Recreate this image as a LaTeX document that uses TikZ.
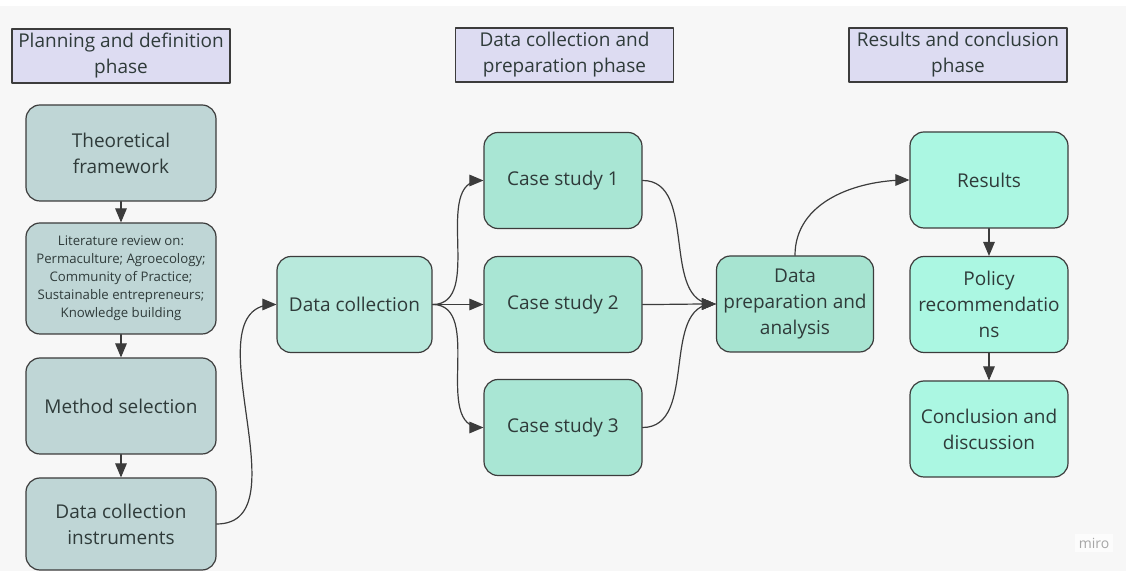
\documentclass[tikz,border=0pt]{standalone}
\usepackage{fontspec}
\setmainfont{Open Sans}
\usetikzlibrary{arrows, positioning}
\definecolor{bgcol}{HTML}{F7F7F7}
\definecolor{phasecol}{HTML}{DDDCF2}
\definecolor{plancol}{HTML}{BFD6D6}
\definecolor{collcol}{HTML}{B8E9DC}
\definecolor{casecol}{HTML}{A9E6D4}
\definecolor{prepcol}{HTML}{A7E4D1}
\definecolor{rescol}{HTML}{ABF7E2}
\definecolor{edgecol}{HTML}{3C3C3C}
\definecolor{txtcol}{HTML}{2F3B3A}

\begin{document}
\begin{tikzpicture}[line cap=round,line join=round,>=triangle 45,x=0.5pt,y=-0.5pt,
  phase/.style={draw=edgecol, line width=0.6pt, fill=phasecol, text=txtcol, align=center,
    minimum width=109pt, minimum height=27pt, inner sep=1pt, font=\fontsize{9.5}{13}\selectfont},
  box/.style={draw=edgecol, line width=0.6pt, rounded corners=7pt, text=txtcol, align=center,
    minimum height=48pt, inner sep=1pt, font=\fontsize{9.5}{13}\selectfont},
  planbox/.style={box, fill=plancol, minimum width=95pt},
  collbox/.style={box, fill=collcol, minimum width=77.5pt},
  casebox/.style={box, fill=casecol, minimum width=79pt},
  prepbox/.style={box, fill=prepcol, minimum width=78.5pt},
  resbox/.style={box, fill=rescol, minimum width=79pt},
  link/.style={->, draw=edgecol, line width=0.6pt}]
\fill[white] (0,0) rectangle (1126,571);
\fill[bgcol] (0,6) rectangle (1126,571);

% phases
\node[phase] (plan) at (121,56) {Planning and definition\\phase};
\node[phase] (prep) at (564.5,55) {Data collection and\\preparation phase};
\node[phase] (res) at (958,55) {Results and conclusion\\phase};

% planning and definition
\node[planbox] (theory) at (121,153) {Theoretical\\framework};
\node[planbox, minimum height=55.5pt, font=\fontsize{6.6}{9}\selectfont] (review) at (121,278.5)
  {Literature review on:\\Permaculture; Agroecology;\\Community of Practice;\\Sustainable entrepreneurs;\\Knowledge building};
\node[planbox] (method) at (121,406) {Method selection};
\node[planbox, minimum height=46pt] (instr) at (121,524) {Data collection\\instruments};

% data collection and preparation
\node[collbox] (collect) at (354.5,304.5) {Data collection};
\node[casebox] (case1) at (563,180.5) {Case study 1};
\node[casebox] (case2) at (563,304.5) {Case study 2};
\node[casebox] (case3) at (563,427.5) {Case study 3};
\node[prepbox] (analysis) at (795,304) {Data\\preparation and\\analysis};

% results and conclusion
\node[resbox] (results) at (989,180) {Results};
\node[resbox] (policy) at (989,304.5) {Policy\\recommendatio\\ns};
\node[resbox] (concl) at (989,429) {Conclusion and\\discussion};

\draw[link] (theory) -- (review);
\draw[link] (review) -- (method);
\draw[link] (method) -- (instr);
\draw[link] (instr.east) to[out=0,in=180] (collect.west);
\foreach \c in {case1,case2,case3}{
  \draw[link] (collect.east) to[out=0,in=180] (\c.west);
  \draw[link] (\c.east) to[out=0,in=180] (analysis.west);
}
\draw[link] (analysis.north) to[out=90,in=180] (results.west);
\draw[link] (results) -- (policy);
\draw[link] (policy) -- (concl);

\node[fill=white!60!bgcol, text=gray!70, inner sep=2pt, font=\fontsize{7}{8}\selectfont] (miro) at (1094,543) {miro};
\end{tikzpicture}
\end{document}
